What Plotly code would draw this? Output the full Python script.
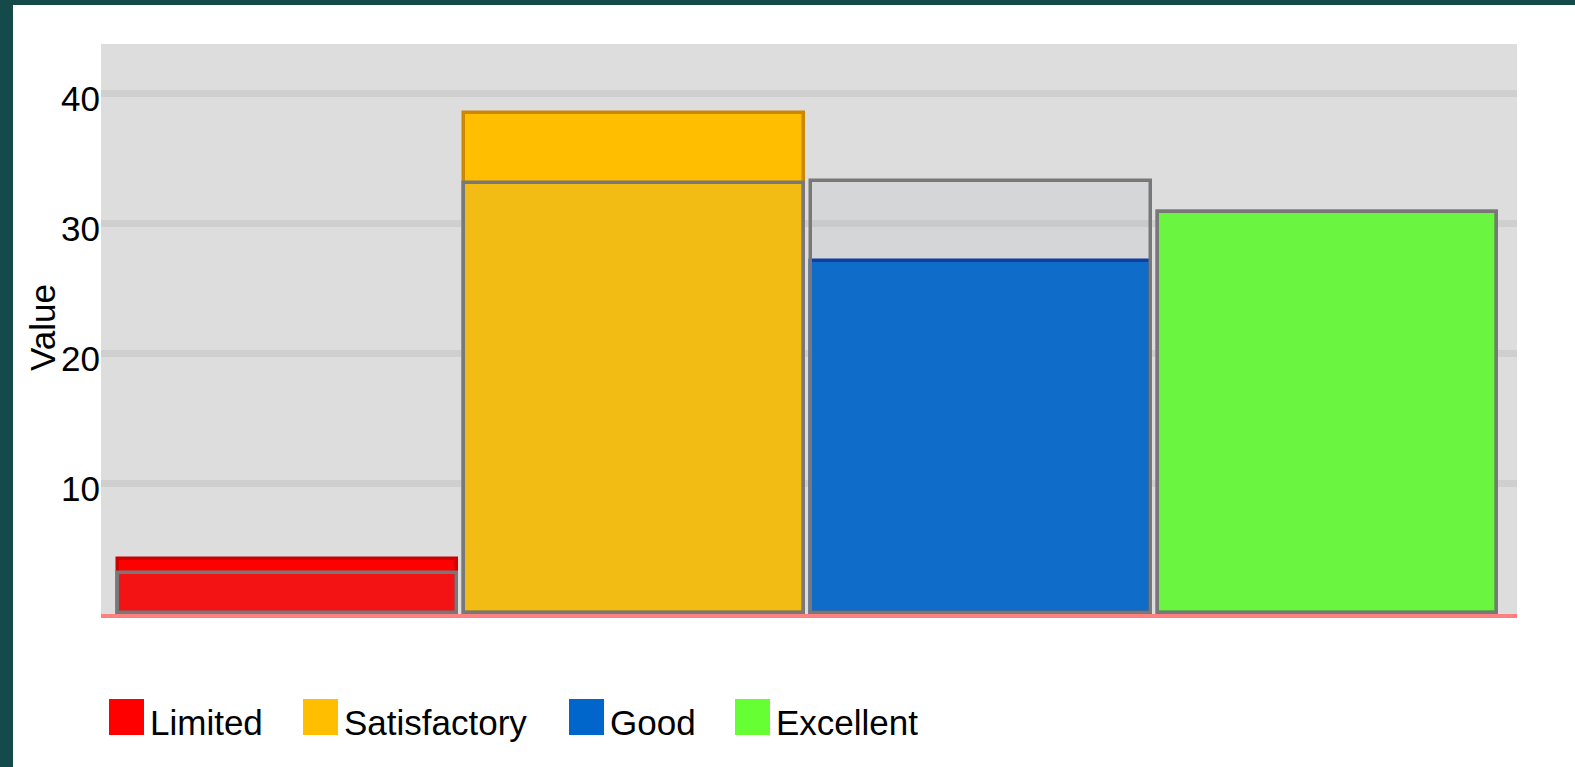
import plotly.graph_objects as go

# Donnees
categories = ["Limited", "Satisfactory", "Good", "Excellent"]
actual = [4.2, 38.5, 27.1, 30.9]
target = [3.1, 33.1, 33.3, 30.9]
tick_vals = [10, 20, 30, 40]

fill_colors = ["#ff0000", "#ffbf00", "#0066cc", "#66ff33"]
edge_colors = ["#cc0000", "#cc8800", "#003399", "#33cc00"]

W, H = 1575, 767
L, R, T, B = 101, 58, 44, 153
PW, PH = W - L - R, H - T - B
FONT = "Liberation Sans, Arial, sans-serif"


def px(x):
    return (x - L) / PW


def py(y):
    return (H - B - y) / PH


fig = go.Figure()

fig.add_trace(
    go.Bar(
        x=categories,
        y=actual,
        width=0.98,
        marker=dict(color=fill_colors, line=dict(color=edge_colors, width=3.5)),
        name="Actual",
        showlegend=False,
        hoverinfo="skip",
    )
)

fig.add_trace(
    go.Bar(
        x=categories,
        y=target,
        width=0.98,
        marker=dict(color="rgba(150,160,185,0.11)", line=dict(color="#787878", width=3.5)),
        name="Target",
        showlegend=False,
        hoverinfo="skip",
    )
)

# Bordure sombre en haut et a gauche
shapes = [
    dict(type="rect", xref="paper", yref="paper", x0=px(0), x1=px(13), y0=py(H), y1=py(0),
         fillcolor="#154a4a", line=dict(width=0), layer="above"),
    dict(type="rect", xref="paper", yref="paper", x0=px(0), x1=px(W), y0=py(5), y1=py(0),
         fillcolor="#154a4a", line=dict(width=0), layer="above"),
]

# Legende dessinee a la main (grands carres)
legend_box_x = [109, 303, 569, 735]
annotations = []
for cat, col, x0 in zip(categories, fill_colors, legend_box_x):
    shapes.append(dict(type="rect", xref="paper", yref="paper",
                       x0=px(x0), x1=px(x0 + 35), y0=py(735), y1=py(699),
                       fillcolor=col, line=dict(width=0)))
    annotations.append(dict(text=cat, xref="paper", yref="paper", x=px(x0 + 39), y=py(722),
                            xanchor="left", yanchor="middle", showarrow=False,
                            font=dict(family=FONT, size=35, color="#000000")))

annotations.append(dict(text="Value", xref="paper", yref="paper", x=px(42), y=py(328),
                        xanchor="center", yanchor="middle", textangle=-90, showarrow=False,
                        font=dict(family=FONT, size=35, color="#000000")))

fig.update_layout(
    width=W,
    height=H,
    barmode="overlay",
    bargap=0,
    showlegend=False,
    paper_bgcolor="#ffffff",
    plot_bgcolor="#dddddd",
    margin=dict(l=L, r=R, t=T, b=B, pad=0),
    font=dict(family=FONT, size=35, color="#000000"),
    xaxis=dict(
        range=[-0.538, 3.547],
        showticklabels=False,
        showgrid=False,
        zeroline=False,
        showline=True,
        linecolor="#ff8080",
        linewidth=4,
        ticks="",
        fixedrange=True,
    ),
    yaxis=dict(
        range=[-0.04, 43.81],
        tickvals=tick_vals,
        ticks="",
        showgrid=True,
        gridcolor="#cfcfcf",
        gridwidth=7,
        zeroline=False,
        showline=False,
        ticklabelstandoff=0,
        ticklabelshift=5,
        tickfont=dict(family=FONT, size=35, color="#000000"),
        fixedrange=True,
    ),
    shapes=shapes,
    annotations=annotations,
)

fig.write_html(
    "out.html",
    config=dict(displayModeBar=False),
    post_script="document.body.style.margin='0px';document.body.style.overflow='hidden';",
)
